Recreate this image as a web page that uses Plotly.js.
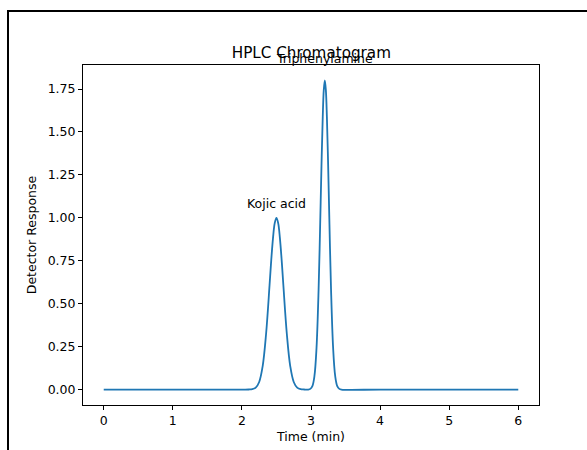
<!DOCTYPE html>
<html>
<head>
<meta charset="utf-8">
<script src="https://cdn.plot.ly/plotly-3.0.1.min.js"></script>
<style>
html, body { margin: 0; padding: 0; overflow: hidden; background: #fff; }
#chart { width: 587px; height: 450px; position: absolute; left: 0; top: 0; }
#frame { position: absolute; left: 7px; top: 10px; width: 620px; height: 480px; border: 2px solid #000; pointer-events: none; box-sizing: border-box; }
</style>
</head>
<body>
<div id="chart"></div>
<div id="frame"></div>
<script>
// Retention time (min) and detector response
const timeMin = [0, 1, 2.0, 2.1, 2.15, 2.2, 2.25, 2.3, 2.35, 2.4, 2.425, 2.45, 2.475, 2.5, 2.525, 2.55, 2.575, 2.6, 2.65, 2.7, 2.75, 2.8, 2.85, 2.9,
  2.96, 2.99, 3.02, 3.05, 3.08, 3.11, 3.14, 3.155, 3.17, 3.185, 3.2, 3.215, 3.23, 3.245, 3.26, 3.29, 3.32, 3.35, 3.38, 3.41, 3.44, 4, 5, 6];
const response = [0, 0, 0, 0.0003, 0.002, 0.011, 0.044, 0.135, 0.325, 0.607, 0.755, 0.882, 0.969, 1.0, 0.969, 0.882, 0.755, 0.607, 0.325, 0.135, 0.044, 0.011, 0.002, 0.0003,
  0, 0.004, 0.020, 0.079, 0.244, 0.584, 1.092, 1.359, 1.588, 1.745, 1.8, 1.745, 1.588, 1.359, 1.092, 0.584, 0.244, 0.079, 0.020, 0.004, 0, 0, 0, 0];

const peakNames = ["Kojic acid", "Triphenylamine"];
const peakTimes = [2.5, 3.2];
const peakHeights = [1.0, 1.8];

const xTicks = [0, 1, 2, 3, 4, 5, 6];
const yTicks = [0, 0.25, 0.5, 0.75, 1.0, 1.25, 1.5, 1.75];

const font = "DejaVu Sans, sans-serif";

const trace = {
  x: timeMin, y: response, type: "scatter", mode: "lines",
  line: { color: "#1f77b4", width: 1.8, shape: "spline", smoothing: 1 },
  hoverinfo: "skip"
};

const annShift = [14, 22];
const annotations = peakNames.map((name, i) => ({
  x: peakTimes[i], y: peakHeights[i], xref: "x", yref: "y",
  text: name, showarrow: false, xanchor: "center", yanchor: "middle",
  yshift: annShift[i], font: { family: font, size: 12.5, color: "#000" }
}));

const layout = {
  width: 587, height: 450,
  margin: { l: 83, r: 48, t: 65, b: 45 },
  paper_bgcolor: "#fff", plot_bgcolor: "#fff",
  showlegend: false,
  title: { text: "HPLC Chromatogram", x: 0.5304, xanchor: "center", y: 0.884, yanchor: "middle",
    font: { family: font, size: 15.2, color: "#000" } },
  xaxis: {
    range: [-0.3, 6.3], tickvals: xTicks, ticktext: xTicks.map(String),
    showgrid: false, zeroline: false, showline: true, mirror: true, linecolor: "#000", linewidth: 1,
    ticks: "outside", ticklen: 4, tickcolor: "#000", tickwidth: 1,
    tickfont: { family: font, size: 12.5, color: "#000" },
    title: { text: "Time (min)", font: { family: font, size: 12.5, color: "#000" }, standoff: 5 }
  },
  yaxis: {
    range: [-0.09, 1.89], tickvals: yTicks, ticktext: yTicks.map(v => v.toFixed(2)),
    showgrid: false, zeroline: false, showline: true, mirror: true, linecolor: "#000", linewidth: 1,
    ticks: "outside", ticklen: 4, tickcolor: "#000", tickwidth: 1,
    tickfont: { family: font, size: 12.5, color: "#000" },
    title: { text: "Detector Response", font: { family: font, size: 12.5, color: "#000" }, standoff: 8 }
  },
  annotations: annotations
};

Plotly.newPlot("chart", [trace], layout, { displayModeBar: false, staticPlot: true });
</script>
</body>
</html>
